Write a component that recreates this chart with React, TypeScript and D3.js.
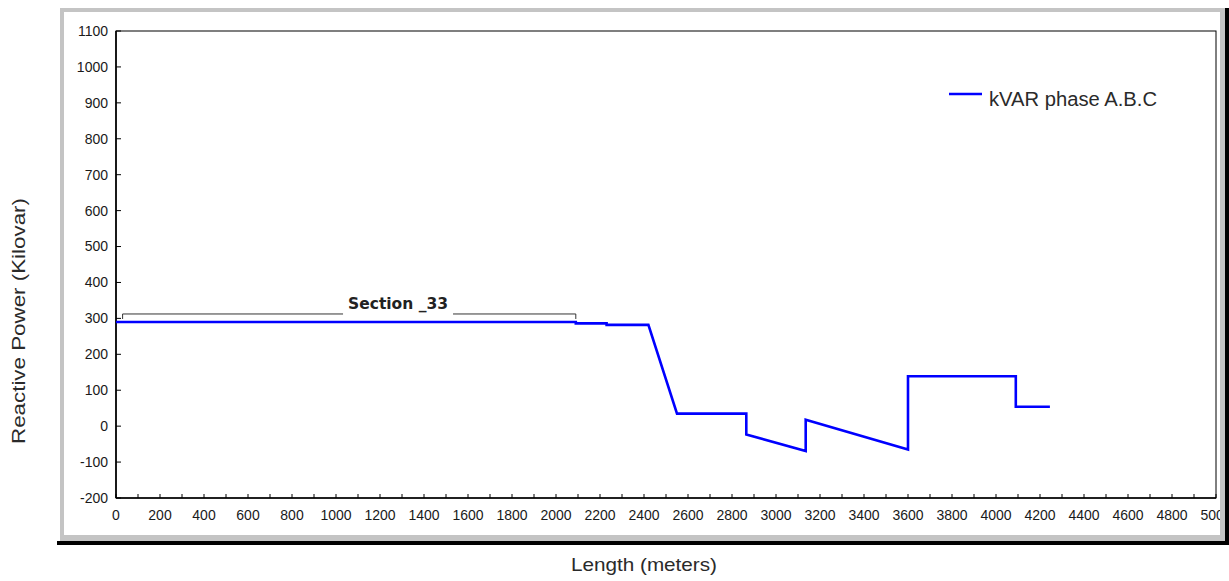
import React from 'react';
import * as d3 from 'd3';

// Reactive power profile along the feeder (step/ramp profile)
const lengthM = [0, 2090, 2090, 2230, 2230, 2420, 2550, 2865, 2865, 3135, 3135, 3600, 3600, 4090, 4090, 4245];
const kvarABC = [290, 290, 286, 286, 282, 282, 35, 35, -23, -69, 18, -65, 139, 139, 54, 54];

const xLabelTicks = d3.range(0, 5001, 200);
const xTicks = d3.range(0, 5001, 100);
const yTicks = d3.range(-200, 1101, 100);

const seriesName = 'kVAR phase A.B.C';
const xTitle = 'Length (meters)';
const yTitle = 'Reactive Power (Kilovar)';

// Section annotation: [start, end] in meters, label position in meters
const sectionName = 'Section _33';
const sectionSpan = [30, 2090];
const sectionLabelAt = 1282;
const sectionLevel = 290;

const W = 1229;
const H = 581;
const plot = { left: 116, right: 1216, top: 31, bottom: 498 };

export default function App() {
  const x = d3.scaleLinear().domain([0, 5000]).range([plot.left, plot.right]);
  const y = d3.scaleLinear().domain([-200, 1100]).range([plot.bottom, plot.top]);

  const pts: [number, number][] = lengthM.map((d, i) => [d, kvarABC[i]]);
  const line = d3
    .line<[number, number]>()
    .x((d) => x(d[0]))
    .y((d) => y(d[1]));

  const tickFont = { fontFamily: 'Liberation Sans, Arial, sans-serif', fontSize: 14, fill: '#1a1a1a' };
  const bracketY = y(sectionLevel) - 8;
  const labelX = x(sectionLabelAt);
  const gapHalf = 55;

  // frame geometry
  const gray = '#c4c4c4';
  const fo = { l: 60, t: 8, r: 1225, b: 541 };
  const fi = { l: 64, t: 12, r: 1220, b: 535 };
  const framePath = `M${fo.l},${fo.t}H${fo.r}V${fo.b}H${fo.l}Z M${fi.l},${fi.t}V${fi.b}H${fi.r}V${fi.t}Z`;

  return (
    <svg width={W} height={H} style={{ position: 'absolute', left: 0, top: 0, background: '#fff' }}>
      <rect x={0} y={0} width={W} height={H} fill="#fff" />

      {/* plot box */}
      <rect
        x={plot.left}
        y={plot.top}
        width={plot.right - plot.left}
        height={plot.bottom - plot.top}
        fill="#fff"
        stroke="#000"
        strokeWidth={1}
      />
      <line x1={plot.left} x2={plot.left} y1={plot.top} y2={plot.bottom} stroke="#000" strokeWidth={1.6} />
      <line x1={plot.left} x2={plot.right} y1={plot.bottom} y2={plot.bottom} stroke="#000" strokeWidth={1.6} />

      {/* y axis ticks + labels */}
      {yTicks.map((v) => (
        <g key={'y' + v}>
          <line x1={plot.left} x2={plot.left + 5} y1={y(v)} y2={y(v)} stroke="#000" strokeWidth={1} />
          <text x={plot.left - 8} y={y(v)} dy="0.35em" textAnchor="end" {...tickFont}>
            {v}
          </text>
        </g>
      ))}

      {/* x axis ticks + labels */}
      {xTicks.map((v) => (
        <line key={'xt' + v} x1={x(v)} x2={x(v)} y1={plot.bottom} y2={plot.bottom - 4} stroke="#000" strokeWidth={1} />
      ))}
      {xLabelTicks.map((v) => (
        <text key={'xl' + v} x={x(v)} y={plot.bottom + 17} dy="0.35em" textAnchor="middle" {...tickFont}>
          {v}
        </text>
      ))}

      {/* section annotation */}
      <g stroke="#333" strokeWidth={1} fill="none">
        <path d={`M${x(sectionSpan[0])},${bracketY + 5}V${bracketY}H${labelX - gapHalf}`} />
        <path d={`M${labelX + gapHalf},${bracketY}H${x(sectionSpan[1])}V${bracketY + 5}`} />
      </g>
      <text
        x={labelX}
        y={bracketY - 5}
        textAnchor="middle"
        fontFamily="DejaVu Sans Condensed, DejaVu Sans, sans-serif"
        fontWeight="bold"
        fontSize={15}
        fill="#222"
        textLength={100}
        lengthAdjust="spacingAndGlyphs"
      >
        {sectionName}
      </text>

      {/* series */}
      <path d={line(pts) || ''} fill="none" stroke="#0000ff" strokeWidth={2.6} strokeLinejoin="miter" />

      {/* legend */}
      <line x1={949} x2={982} y1={94} y2={94} stroke="#0000ff" strokeWidth={2.6} />
      <text
        x={989}
        y={106}
        fontFamily="Liberation Sans, Arial, sans-serif"
        fontSize={20}
        fill="#2a2a2a"
        textLength={168}
        lengthAdjust="spacingAndGlyphs"
      >
        {seriesName}
      </text>

      {/* frame */}
      <path d={framePath} fill={gray} fillRule="evenodd" />
      <rect x={1225} y={8} width={4} height={537} fill="#000" />
      <rect x={57} y={541} width={1172} height={4} fill="#000" />

      {/* axis titles */}
      <text
        x={644}
        y={571}
        textAnchor="middle"
        fontFamily="Liberation Sans, Arial, sans-serif"
        fontSize={19}
        fill="#2a2a2a"
        textLength={146}
        lengthAdjust="spacingAndGlyphs"
      >
        {xTitle}
      </text>
      <text
        transform={`translate(25,${(198 + 444) / 2}) rotate(-90)`}
        textAnchor="middle"
        fontFamily="Liberation Sans, Arial, sans-serif"
        fontSize={19}
        fill="#2a2a2a"
        textLength={246}
        lengthAdjust="spacingAndGlyphs"
      >
        {yTitle}
      </text>
    </svg>
  );
}
